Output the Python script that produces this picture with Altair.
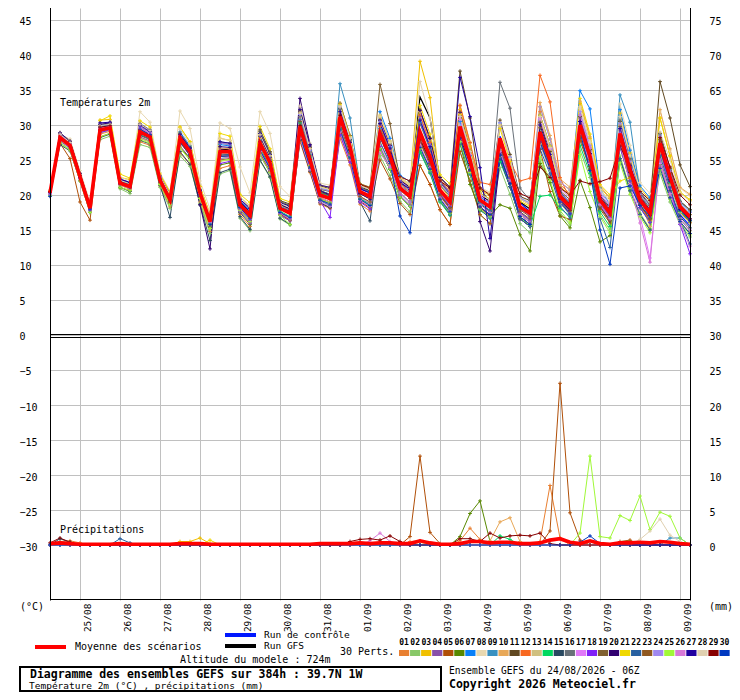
import json
import altair as alt
import pandas as pd

FONT = "DejaVu Sans Mono"

MEMBERS = [f"{i:02d}" for i in range(1, 31)]
COLORS = ["#e87f30", "#88c868", "#f0c000", "#8850a8", "#b04f08", "#588800",
          "#0880f8", "#e8d8b0", "#3890c0", "#e8a858", "#604820", "#f86820",
          "#d0c080", "#00d860", "#284860", "#687078", "#e078f8", "#8020f8",
          "#806030", "#300070", "#f0d800", "#2860a0", "#905820", "#a088f0",
          "#a0f838", "#d878d8", "#2000a0", "#e0d0b0", "#880000", "#0038c0"]

DATE_LABELS = ["25/08", "26/08", "27/08", "28/08", "29/08", "30/08", "31/08", "01/09",
               "02/09", "03/09", "04/09", "05/09", "06/09", "07/09", "08/09", "09/09"]
DATE_STEPS = [3, 7, 11, 15, 19, 23, 27, 31, 35, 39, 43, 47, 51, 55, 59, 63]
Y_TICKS = [-30, -25, -20, -15, -10, -5, 0, 5, 10, 15, 20, 25, 30, 35, 40, 45]

# 2 m temperature (deg C), 6-hourly steps from 24/08 06Z to 09/09 06Z
MEAN_T = [20.3,28.2,27.1,22.6,18.1, 29.3,29.6,21.7,21.2, 29.0,28.3,22.1,19.3, 28.1,26.2,20.3,16.2,
          26.2,26.2,18.6,17.1, 27.4,24.6,18.1,17.4, 29.8,25.0,20.0,19.5, 31.2,26.9,20.5,19.8,
          28.8,25.5,21.0,19.8, 29.0,25.5,20.7,19.0, 29.8,25.0,19.3,18.3, 28.1,23.6,18.3,17.4,
          29.0,25.0,19.8,18.3, 30.0,25.5,19.3,17.4, 28.8,23.6,19.3,17.4, 27.4,22.6,18.3,16.9]
CTRL_T = [20.4,28.6,27.4,22.9,18.4, 29.9,30.1,22.0,21.5, 29.4,28.9,22.4,19.8, 28.6,26.7,20.8,16.6,
          26.6,26.5,18.9,17.4, 27.9,24.9,18.4,17.9, 30.4,25.5,20.4,19.9, 31.6,27.3,20.9,20.3,
          29.4,25.9,21.1,20.0, 29.1,25.3,20.2,18.6, 29.6,24.6,19.1,18.1, 28.4,23.9,18.9,17.6,
          28.2,24.1,19.2,17.9, 29.2,24.3,18.6,16.2, 28.4,23.1,18.6,16.4, 26.9,22.1,17.2,15.6]
GFS_T = [20.6,28.1,27.2,22.5,18.0, 29.6,30.1,22.1,21.6, 29.6,29.0,22.6,20.1, 28.4,26.4,20.9,16.4,
         26.4,26.6,19.1,17.6, 28.1,25.1,18.6,18.0, 30.6,25.6,20.6,20.1, 31.4,27.6,21.1,20.6,
         29.6,26.6,21.6,21.1, 34.0,31.0,22.0,20.2, 31.1,26.1,20.1,19.0, 28.0,24.0,19.0,18.0,
         29.1,25.1,20.0,18.6, 30.1,25.6,19.6,18.1, 29.1,24.1,19.6,17.6, 28.1,23.1,18.6,17.1]

T01 = [20.6,27.8,26.8,22.4,17.9, 28.7,29.1,21.4,20.8, 27.6,27.1,21.3,18.3, 26.0,24.4,19.0,14.8, 23.8,24.2,17.2,15.5, 26.0,23.4,17.3,16.4, 27.6,23.2,18.7,18.1, 28.1,24.3,18.7,17.7, 26.6,23.7,19.7,18.4, 24.2,21.5,17.9,15.8, 27.9,23.4,18.2,17.0, 25.2,21.2,16.6,15.5, 31.9,24.0,21.5,20.2, 28.8,24.5,18.6,16.6, 27.4,22.4,18.5,16.4, 23.8,19.6,16.2,14.5]
T02 = [20.0,27.5,26.5,22.1,17.6, 27.9,28.4,20.9,20.2, 27.2,26.8,21.1,18.1, 25.6,24.1,18.8,14.5, 23.0,23.5,16.7,14.9, 24.9,22.5,16.6,15.7, 28.7,24.1,19.4,18.8, 29.2,25.2,19.3,18.4, 25.6,22.8,19.1,17.6, 26.2,23.2,19.1,17.2, 26.2,22.0,17.2,15.9, 23.9,20.1,15.9,14.6, 25.0,21.7,17.5,15.7, 26.4,22.5,17.2,15.0, 25.6,20.9,17.4,15.2, 23.1,19.0,15.8,14.0]
T03 = [20.5,28.7,27.5,22.9,18.4, 30.7,30.8,22.5,22.2, 30.1,29.2,22.7,20.0, 29.7,27.6,21.2,17.3, 28.1,27.8,19.7,18.4, 29.1,26.0,19.1,18.5, 32.2,27.0,21.4,21.1, 33.1,28.5,21.6,21.1, 31.4,27.7,22.5,21.6, 39.1,33.9,21.4,19.5, 32.2,27.0,20.7,19.9, 30.0,25.2,19.4,18.7, 32.6,28.0,21.9,20.7, 33.1,28.1,21.1,19.5, 31.7,26.0,21.0,19.3, 31.0,25.6,20.4,19.3]
T04 = [20.1,27.7,26.7,22.3,17.8, 28.9,29.3,21.5,21.0, 28.3,27.7,21.7,18.8, 27.0,25.3,19.7,15.5, 25.5,25.6,18.2,16.6, 26.2,23.6,17.4,16.6, 30.3,25.4,20.3,19.8, 30.7,26.5,20.2,19.5, 30.0,26.5,21.7,20.6, 31.2,27.3,22.0,20.4, 31.2,26.2,20.1,19.3, 27.6,23.2,18.0,17.1, 27.8,24.0,19.1,17.5, 31.0,26.3,19.9,18.0, 29.3,24.0,19.6,17.7, 26.4,21.8,17.7,16.3]
T05 = [20.1,27.4,25.2,19.0,16.4, 28.3,28.8,21.1,20.6, 28.5,27.9,21.8,18.9, 28.5,26.5,20.5,16.4, 25.7,25.8,18.3,16.8, 26.4,23.8,17.5,16.8, 27.9,23.4,18.9,18.2, 28.8,24.9,19.1,18.2, 25.0,22.3,18.8,17.2, 24.2,21.5,17.9,15.8, 26.2,22.0,17.2,15.9, 25.7,21.6,16.9,15.8, 26.5,20.5,17.0,16.5, 27.8,23.7,18.0,16.0, 26.9,22.0,18.2,16.1, 26.2,21.6,17.6,16.1]
T06 = [20.4,28.3,27.2,22.7,18.2, 29.1,29.4,21.6,21.0, 28.1,27.6,21.6,18.7, 26.8,25.2,19.6,15.4, 24.3,24.6,17.5,15.8, 26.4,23.8,17.5,16.8, 29.1,24.4,19.6,19.0, 29.8,25.7,19.7,18.8, 26.6,23.7,19.7,18.4, 26.6,23.5,19.3,17.4, 27.4,21.5,17.8,17.0, 18.6,18.1,14.3,12.0, 24.5,21.8,17.0,15.3, 22.1,18.2,13.3,14.2, 25.2,20.6,17.2,15.0, 24.4,20.1,16.6,14.9]
T07 = [20.5,28.6,27.4,22.8,18.3, 29.8,30.0,22.0,21.5, 29.5,28.8,22.4,19.7, 29.0,27.0,20.8,16.8, 27.2,27.0,19.2,17.7, 28.8,25.8,18.9,18.4, 31.5,26.4,21.0,20.6, 32.4,27.9,21.2,20.6, 31.9,28.1,22.8,21.9, 30.4,26.7,21.5,20.0, 30.5,25.6,19.7,18.8, 30.3,25.4,19.6,18.8, 31.4,27.0,21.2,19.9, 34.9,32.3,21.0,18.6, 32.2,26.4,21.3,19.6, 28.8,23.8,19.1,17.9]
T08 = [20.8,28.6,28.0,23.5,19.0, 30.0,30.5,22.6,22.0, 31.9,30.4,23.2,20.5, 32.0,29.5,22.0,18.0, 30.3,29.5,24.0,20.3, 31.9,28.8,21.2,19.8, 32.7,27.4,21.7,21.4, 33.1,28.5,21.6,21.1, 31.4,27.7,22.5,21.6, 31.9,27.9,22.4,20.9, 32.9,27.6,21.1,20.4, 30.5,25.6,19.7,19.0, 31.4,27.0,21.2,19.9, 32.6,27.7,20.8,19.2, 33.0,27.1,21.8,20.2, 32.0,26.4,21.0,19.9]
T09 = [20.2,28.2,27.1,22.6,18.1, 29.4,29.7,21.8,21.3, 29.4,28.6,22.3,19.5, 27.7,25.9,20.1,16.0, 25.5,25.6,18.2,16.6, 27.9,25.0,18.4,17.7, 30.8,25.8,20.6,20.1, 35.9,31.0,21.3,20.2, 29.5,26.1,21.4,20.3, 28.0,24.7,20.1,18.4, 29.1,24.4,18.9,17.8, 26.7,22.4,17.5,16.4, 27.3,23.6,18.8,17.2, 29.3,24.9,18.9,16.9, 34.3,30.4,20.3,18.0, 28.6,23.6,19.0,17.7]
T10 = [20.3,28.1,27.0,22.5,18.0, 29.3,29.6,21.7,21.2, 29.5,28.8,22.4,19.7, 28.6,26.7,20.6,16.6, 26.7,26.6,18.9,17.4, 28.1,25.2,18.5,17.9, 31.2,26.2,20.8,20.5, 32.6,28.1,21.3,20.8, 31.0,27.3,22.3,21.2, 31.9,27.9,22.4,20.9, 32.7,27.4,20.9,20.2, 26.5,22.8,19.4,18.6, 33.2,28.5,22.3,21.1, 33.4,28.3,21.3,19.6, 30.0,24.6,19.0,15.5, 32.2,26.6,21.1,20.1]
T11 = [20.0,28.0,27.0,22.5,18.0, 29.7,29.9,21.9,21.4, 29.2,28.4,22.2,19.4, 28.8,26.8,20.7,16.7, 27.4,27.2,19.3,17.9, 29.3,26.2,19.2,18.7, 32.0,26.8,21.3,20.9, 32.4,27.9,21.2,20.6, 30.7,27.1,22.1,21.1, 32.1,28.1,22.5,21.1, 37.7,31.0,21.0,19.0, 30.7,25.8,19.8,19.2, 30.4,26.2,20.6,19.3, 31.2,26.5,20.0,18.2, 30.5,25.0,20.3,18.5, 36.2,31.0,24.3,21.2]
T12 = [20.6,28.4,27.3,22.8,18.3, 29.5,29.8,21.8,21.4, 28.8,28.2,22.0,19.2, 28.3,26.4,20.4,16.3, 25.5,25.6,18.2,16.6, 27.6,24.8,18.2,17.6, 29.1,24.4,19.6,19.0, 30.7,26.5,20.2,19.5, 29.8,26.3,21.6,20.4, 31.4,27.5,22.1,20.6, 32.8,27.5,21.8,21.5, 27.3,24.8,22.0,22.4, 37.1,33.3,22.5,19.4, 30.5,25.9,19.6,17.7, 27.4,22.4,18.5,16.4, 26.9,22.2,18.0,16.6]
T13 = [20.2,28.0,26.9,22.4,17.9, 28.8,29.2,21.4,20.9, 28.1,27.6,21.6,18.7, 26.7,25.0,19.5,15.2, 24.8,25.0,17.8,16.1, 25.7,23.2,17.1,16.3, 28.6,24.0,19.3,18.7, 30.0,25.9,19.8,19.0, 27.4,24.3,20.2,18.8, 28.3,24.9,20.3,18.5, 27.6,23.2,18.0,16.9, 26.4,22.2,17.3,16.3, 27.3,23.6,18.8,17.2, 29.0,24.7,18.7,16.8, 28.1,23.0,18.9,16.9, 26.0,21.4,17.5,15.9]
T14 = [20.4,28.3,27.2,22.7,18.2, 29.2,29.5,21.6,21.1, 28.6,28.0,21.9,19.1, 27.7,25.9,20.1,16.0, 25.2,25.4,18.0,16.5, 26.7,24.0,17.7,16.9, 30.3,25.4,20.3,19.8, 29.5,25.5,19.5,18.7, 26.6,23.7,19.7,18.4, 26.1,23.1,19.0,17.1, 27.4,23.0,17.9,16.7, 24.8,21.2,16.8,15.6, 19.8,20.0,18.1,17.0, 27.1,23.1,17.6,15.5, 26.9,22.0,18.2,16.1, 26.4,21.8,17.7,16.3]
T15 = [19.9,27.2,26.3,22.0,17.5, 28.2,28.7,21.1,20.5, 27.8,27.3,21.4,16.8, 26.2,24.4,18.6,13.5, 23.2,23.7,16.9,15.1, 25.0,22.6,16.7,15.8, 27.9,23.4,18.9,18.2, 29.6,25.6,19.0,16.3, 26.6,23.7,19.7,18.4, 27.8,24.5,20.0,18.2, 28.8,24.2,18.7,17.7, 26.2,22.0,17.2,16.1, 27.6,23.8,19.0,17.3, 28.3,24.1,18.3,16.3, 27.6,22.6,18.6,16.6, 25.0,20.6,16.9,15.3]
T16 = [20.5,28.8,27.6,23.0,18.5, 30.0,30.2,22.1,21.7, 30.2,29.3,22.8,20.1, 28.8,26.8,20.7,16.7, 27.6,27.4,19.4,18.1, 29.1,26.0,19.1,18.5, 31.2,26.2,20.8,20.5, 32.2,27.7,21.1,20.4, 30.2,26.7,21.8,20.8, 30.2,26.5,21.4,19.8, 31.5,26.4,20.3,19.4, 36.1,32.4,21.0,19.2, 31.4,27.0,21.2,19.9, 31.4,26.7,20.1,18.4, 30.7,25.2,20.4,18.7, 28.8,23.8,19.1,17.9]
T17 = [20.1,28.2,27.1,22.6,18.1, 29.5,29.8,21.8,21.4, 29.7,28.9,22.5,19.8, 28.3,26.4,20.4,16.3, 25.0,25.2,17.9,16.3, 26.4,23.8,17.5,16.8, 29.1,24.4,19.6,19.0, 29.8,25.7,19.7,18.8, 28.3,25.1,20.7,19.5, 27.6,24.3,19.9,18.0, 30.8,25.8,19.9,18.9, 27.4,23.0,17.9,16.9, 30.9,26.6,20.9,19.6, 31.4,26.7,20.1,18.4, 28.8,22.6,17.0,11.0, 24.5,20.2,16.6,15.0]
T18 = [20.0,28.0,26.9,22.4,17.9, 28.9,29.3,21.5,21.0, 29.2,28.5,22.2,19.4, 27.9,26.1,20.2,16.1, 24.5,24.8,17.6,16.0, 25.7,23.2,17.1,16.3, 29.2,24.6,19.2,16.8, 28.6,24.7,19.0,18.0, 26.9,23.9,19.9,18.5, 28.0,24.7,20.1,18.4, 27.9,23.4,18.2,17.0, 26.7,22.4,17.5,16.4, 28.3,24.4,19.4,17.8, 29.0,24.7,18.7,16.8, 26.9,22.0,18.2,16.1, 26.8,21.0,15.8,11.6]
T19 = [20.4,28.3,27.2,22.7,18.2, 29.4,29.7,21.8,21.3, 29.4,28.6,22.3,19.5, 28.6,26.6,20.6,16.6, 26.0,26.0,18.5,16.9, 27.6,24.8,18.2,17.6, 30.5,25.6,20.4,20.0, 33.1,28.5,21.6,21.1, 35.8,30.2,22.0,20.8, 27.8,24.5,20.0,18.2, 28.0,23.5,18.2,17.1, 26.9,22.6,17.6,16.6, 29.6,25.5,20.2,18.7, 29.5,25.1,19.0,17.1, 29.8,24.4,19.9,18.0, 28.8,23.8,19.1,17.9]
T20 = [20.3,28.8,27.6,23.0,18.5, 30.1,30.3,22.2,21.8, 30.1,29.2,22.7,20.0, 27.6,25.6,18.6,12.3, 26.9,26.8,19.0,17.6, 28.8,25.8,18.9,18.4, 33.8,27.2,20.6,20.0, 30.6,26.4,20.2,19.4, 30.7,27.1,22.1,21.1, 32.1,28.1,22.5,21.1, 31.8,26.3,16.2,12.0, 25.2,21.2,16.6,15.5, 28.3,24.4,19.4,17.8, 30.5,25.9,19.6,17.7, 28.3,23.2,19.0,17.1, 26.9,22.2,18.0,16.6]
T21 = [20.6,28.9,27.7,23.1,18.6, 30.6,31.3,23.0,22.4, 30.6,29.7,23.0,20.4, 29.7,27.6,21.2,17.3, 28.8,28.4,20.1,18.9, 29.8,26.6,19.5,19.0, 31.7,26.6,21.1,20.8, 32.9,28.3,21.5,20.9, 31.2,27.5,22.4,21.4, 32.8,28.7,22.9,21.6, 31.5,26.4,20.3,19.4, 29.5,24.8,19.1,18.4, 31.4,27.0,21.2,19.9, 33.8,28.7,21.5,20.0, 22.0,22.5,19.6,18.1, 31.0,25.6,20.4,19.3]
T22 = [20.0,28.2,27.1,22.6,18.1, 29.3,29.6,21.7,21.2, 28.6,28.0,21.9,19.1, 28.6,26.7,20.6,16.6, 25.7,25.8,18.3,16.8, 26.2,23.6,17.4,16.6, 28.4,23.8,19.2,18.5, 29.3,25.3,19.4,18.5, 27.6,24.5,20.3,19.0, 26.4,23.3,19.2,17.2, 27.4,23.0,17.9,16.7, 25.2,21.2,16.6,15.5, 26.6,23.0,18.4,16.7, 29.2,24.2,16.6,12.5, 25.2,20.6,17.2,15.0, 25.6,21.1,16.5,13.0]
T23 = [20.5,28.4,27.3,22.8,18.3, 29.2,29.5,21.6,21.1, 29.2,28.4,22.2,19.4, 27.5,25.7,20.0,15.8, 25.0,25.2,17.9,16.3, 26.0,23.4,17.3,16.4, 28.8,24.2,19.4,18.9, 30.0,25.9,19.8,19.0, 28.3,25.1,20.7,19.5, 27.6,24.3,19.9,18.0, 28.1,23.6,18.3,17.2, 27.4,23.0,17.9,16.9, 28.0,24.2,19.2,17.7, 28.3,24.1,18.3,16.3, 27.6,22.6,18.6,16.6, 27.9,23.0,18.6,17.2]
T24 = [20.2,28.6,27.4,22.8,18.3, 29.7,29.9,21.9,21.4, 29.7,28.9,22.5,19.8, 28.5,26.5,20.5,16.4, 27.4,27.2,19.3,17.9, 27.6,24.8,18.2,17.6, 31.5,26.4,21.0,20.6, 32.6,28.1,21.3,20.8, 30.5,26.9,22.0,20.9, 30.9,27.1,21.8,20.3, 31.2,26.2,20.1,19.3, 30.3,25.4,19.6,18.8, 32.6,28.0,21.9,20.7, 31.9,27.1,20.4,18.7, 30.2,24.8,20.1,18.4, 28.4,23.4,18.9,17.5]
T25 = [19.9,27.4,26.4,22.0,17.5, 28.3,28.8,21.1,20.6, 27.9,27.4,21.5,18.6, 26.7,25.0,19.5,15.2, 24.9,25.1,17.8,16.2, 25.7,23.2,17.1,15.8, 28.8,24.2,19.4,18.9, 29.3,25.3,19.4,18.5, 26.6,23.7,19.7,18.4, 26.6,23.5,19.3,17.4, 27.6,23.2,18.0,16.9, 25.6,21.5,16.8,15.7, 25.5,22.1,17.8,16.0, 25.8,20.5,16.9,14.6, 24.6,20.1,16.9,14.6, 23.6,19.4,16.1,14.3]
T26 = [20.1,28.3,27.2,22.7,18.2, 29.4,29.7,21.8,21.3, 29.5,28.8,22.4,19.7, 27.9,26.1,20.2,16.1, 25.2,25.4,18.0,16.5, 26.2,23.6,17.4,16.6, 28.1,23.6,19.0,18.4, 29.0,25.1,19.2,18.4, 26.0,24.0,20.3,19.0, 27.1,23.9,19.6,17.7, 28.6,24.0,18.6,17.5, 26.2,22.0,17.2,16.1, 27.6,23.8,19.0,17.3, 28.8,24.5,18.6,16.6, 27.5,21.5,16.0,10.4, 25.0,20.0,16.0,12.7]
T27 = [20.4,28.9,27.7,23.1,18.6, 30.3,30.4,22.3,21.8, 29.9,29.1,22.6,19.9, 28.6,26.7,20.6,16.6, 27.6,27.4,19.4,18.1, 28.4,25.4,18.7,18.0, 32.2,27.0,21.4,21.1, 31.9,27.5,20.9,20.3, 30.2,26.7,21.8,20.8, 30.7,26.9,21.7,20.1, 36.8,31.2,23.9,13.8, 25.7,21.6,16.9,15.8, 30.0,25.8,20.4,18.9, 30.5,25.9,19.6,17.7, 29.5,24.2,19.7,17.9, 26.7,22.0,17.9,16.4]
T28 = [20.6,28.7,27.5,22.9,18.4, 29.9,30.1,22.1,21.6, 30.1,29.2,22.7,20.0, 29.4,27.3,21.0,17.0, 28.1,27.8,19.7,18.4, 28.6,25.6,18.8,18.2, 31.7,26.6,21.1,20.8, 32.6,28.1,21.3,20.8, 31.2,27.5,22.4,21.4, 36.2,31.0,21.6,20.0, 31.2,26.2,20.1,19.3, 30.0,25.2,19.4,18.7, 31.2,26.8,21.1,19.7, 32.4,27.5,20.7,19.0, 31.2,25.6,20.7,19.0, 29.0,25.0,20.3,19.1]
T29 = [20.5,28.0,27.0,22.8,18.3, 29.7,29.9,21.9,21.4, 29.0,28.3,22.1,19.3, 28.3,26.4,20.4,16.4, 26.1,26.1,18.5,17.0, 27.6,24.8,18.2,17.6, 29.9,25.1,20.1,19.6, 31.4,26.5,21.5,21.0, 28.5,26.0,22.6,22.0, 28.0,25.0,22.0,21.0, 28.2,24.5,21.0,20.0, 27.0,23.6,20.2,19.6, 24.0,22.5,21.0,20.0, 22.0,21.6,21.9,22.4, 27.0,24.0,20.5,19.2, 28.2,24.0,20.0,18.6]
T30 = [19.8,28.1,27.0,22.5,18.0, 29.3,29.6,21.7,21.2, 29.4,28.6,22.3,19.5, 27.6,25.8,20.0,15.8, 25.5,25.6,18.2,16.6, 26.4,23.8,17.5,16.8, 28.6,24.0,19.3,18.7, 29.3,25.3,19.4,18.5, 28.4,24.8,17.0,14.6, 26.8,23.7,19.4,17.6, 28.1,23.6,18.3,17.2, 25.7,21.6,16.9,15.8, 27.6,23.8,19.0,17.3, 29.0,23.5,15.0,10.1, 21.0,21.3,18.5,17.0, 23.8,19.6,16.2,14.5]

# 6-hourly precipitation (mm): step -> amount, other steps dry
MEAN_P = [0.2,0.3,0.2,0.1,0.1, 0.1,0.1,0.2,0.1, 0.1,0.1,0.1,0.1, 0.2,0.2,0.2,0.1, 0.1,0.1,0.1,0.1,
          0.1,0.1,0.1,0.1, 0.1,0.1,0.2,0.2, 0.2,0.2,0.3,0.2, 0.3,0.3,0.2,0.2, 0.6,0.3,0.1,0.1,
          0.2,0.5,0.5,0.3, 0.4,0.4,0.2,0.2, 0.3,0.7,0.9,0.4, 0.2,0.6,0.2,0.1, 0.3,0.3,0.4,0.3, 0.5,0.4,0.2,0.1]
CTRL_P = {}
GFS_P = {}
P01 = {1: 0.5, 2: 0.6, 3: 0.3, 41: 0.6, 42: 2.4, 43: 0.8, 49: 0.5, 50: 8.5, 51: 1.0}
P02 = {}
P03 = {13: 0.5, 14: 0.5, 15: 1.0, 16: 0.2}
P04 = {}
P05 = {36: 1.2, 37: 12.7, 38: 1.8, 39: 0.2, 50: 2.0, 51: 23.1, 52: 4.6, 53: 0.7, 57: 0.5, 58: 0.7}
P06 = {41: 1.2, 42: 4.5, 43: 6.3, 44: 0.5}
P07 = {}
P08 = {}
P09 = {62: 1.0, 63: 1.0}
P10 = {44: 0.6, 45: 3.3, 46: 3.9, 47: 0.5}
P11 = {}
P12 = {36: 0.5, 37: 0.6}
P13 = {37: 0.4}
P14 = {45: 1.3, 46: 0.8}
P15 = {1: 0.9, 2: 0.4}
P16 = {}
P17 = {}
P18 = {}
P19 = {}
P20 = {}
P21 = {16: 0.7}
P22 = {7: 0.9, 8: 0.3}
P23 = {}
P24 = {}
P25 = {53: 1.7, 54: 12.7, 55: 1.2, 56: 1.0, 57: 4.2, 58: 3.5, 59: 7.0, 60: 2.2, 61: 4.7, 62: 4.1, 63: 1.0}
P26 = {32: 0.6, 33: 1.7, 34: 0.5}
P27 = {}
P28 = {59: 0.8, 60: 2.0, 61: 3.7, 62: 1.4, 63: 0.5}
P29 = {0: 0.3, 1: 1.0, 2: 0.4, 30: 0.5, 31: 0.8, 32: 0.9, 33: 0.7, 34: 1.3, 35: 0.5, 41: 0.9, 42: 0.9,
       43: 0.5, 44: 1.7, 45: 1.0, 46: 1.3, 47: 1.4, 48: 1.3, 49: 1.7, 50: 0.2}
P30 = {53: 0.4, 54: 1.3, 55: 0.2}

PERTS_T = [T01, T02, T03, T04, T05, T06, T07, T08, T09, T10, T11, T12, T13, T14, T15,
           T16, T17, T18, T19, T20, T21, T22, T23, T24, T25, T26, T27, T28, T29, T30]
PERTS_P = [P01, P02, P03, P04, P05, P06, P07, P08, P09, P10, P11, P12, P13, P14, P15,
           P16, P17, P18, P19, P20, P21, P22, P23, P24, P25, P26, P27, P28, P29, P30]

N = 65
for i, t in enumerate(PERTS_T + [MEAN_T, CTRL_T, GFS_T, MEAN_P]):
    assert len(t) == N, (i, len(t))

rows = []
for m, t, p in zip(MEMBERS, PERTS_T, PERTS_P):
    for s in range(N):
        rows.append({"member": m, "step": s, "t": t[s], "p": p.get(s, 0.0)})
perts = pd.DataFrame(rows)
det = pd.DataFrame({
    "step": list(range(N)),
    "mean_t": MEAN_T, "ctrl_t": CTRL_T, "gfs_t": GFS_T,
    "mean_p": MEAN_P,
    "ctrl_p": [CTRL_P.get(s, 0.0) for s in range(N)],
    "gfs_p": [GFS_P.get(s, 0.0) for s in range(N)],
})

XS = alt.Scale(domain=[0, 64], nice=False, zero=False)
YS = alt.Scale(domain=[-37.857, 46.714], nice=False, zero=False)

x_axis = alt.Axis(values=DATE_STEPS,
                  labelExpr=json.dumps(DATE_LABELS) + "[(datum.value - 3) / 4]",
                  labelAngle=270, labelAlign="right", labelBaseline="top",
                  labelOffset=2, labelPadding=3, ticks=False, tickSize=0, domain=False,
                  grid=True, gridColor="#c0c0c0", gridWidth=1, title=None,
                  labelFont=FONT, labelFontSize=9.5, labelColor="black",
                  labelOverlap=False, labelFlush=False)
y_left = alt.Axis(values=Y_TICKS, orient="left", labelAlign="left", labelPadding=31,
                  labelOffset=2, ticks=False, tickSize=0, domain=False, grid=True,
                  gridColor="#c0c0c0", gridWidth=1, title=None, labelFont=FONT,
                  labelFontSize=10, labelColor="black", labelOverlap=False, labelFlush=False)
y_right = alt.Axis(values=Y_TICKS, orient="right", labelExpr="datum.value + 30",
                   labelAlign="left", labelPadding=19, labelOffset=2, ticks=False, tickSize=0,
                   domain=False, grid=False, title=None, labelFont=FONT, labelFontSize=10,
                   labelColor="black", labelOverlap=False, labelFlush=False)

X = alt.X("step:Q", scale=XS, axis=x_axis)
color = alt.Color("member:N", scale=alt.Scale(domain=MEMBERS, range=COLORS), legend=None)
CROSS = "M-1,0L1,0M0,-1L0,1"

layers = []
# control and GFS runs first, so that the perturbations and mean sit over them
for col, clr, ax in [("ctrl", "#0018ff", y_right), ("gfs", "#000000", None)]:
    layers.append(alt.Chart(det).mark_line(color=clr, strokeWidth=1.2).encode(
        x=X, y=alt.Y(f"{col}_t:Q", scale=YS, axis=ax)))
    layers.append(alt.Chart(det).transform_calculate(pp=f"datum.{col}_p - 30").mark_line(
        color=clr, strokeWidth=2).encode(x=X, y=alt.Y("pp:Q", scale=YS, axis=None)))
# perturbations, temperature
layers.append(alt.Chart(perts).mark_line(strokeWidth=1).encode(
    x=X, y=alt.Y("t:Q", scale=YS, axis=y_left), color=color, detail="member:N"))
layers.append(alt.Chart(perts).mark_point(shape=CROSS, size=14, filled=False, strokeWidth=1, opacity=1).encode(
    x=X, y=alt.Y("t:Q", scale=YS, axis=None), color=color))
# perturbations, precipitation (shared axis: 0 mm sits at -30)
layers.append(alt.Chart(perts).transform_calculate(pp="datum.p - 30").mark_line(strokeWidth=1).encode(
    x=X, y=alt.Y("pp:Q", scale=YS, axis=None), color=color, detail="member:N"))
layers.append(alt.Chart(perts).transform_calculate(pp="datum.p - 30").mark_point(
    shape=CROSS, size=14, filled=False, strokeWidth=1, opacity=1).encode(
    x=X, y=alt.Y("pp:Q", scale=YS, axis=None), color=color))
# ensemble mean on top
layers.append(alt.Chart(det).mark_line(color="#ff0000", strokeWidth=3.6).encode(
    x=X, y=alt.Y("mean_t:Q", scale=YS, axis=None)))
layers.append(alt.Chart(det).transform_calculate(pp="datum.mean_p - 30").mark_line(
    color="#ff0000", strokeWidth=3.6).encode(x=X, y=alt.Y("pp:Q", scale=YS, axis=None)))

one = pd.DataFrame({"k": [0]})


def txt(s, x, y, size=10, bold=False, align="left"):
    return alt.Chart(one).mark_text(text=s, align=align, baseline="middle", font=FONT,
                                    fontSize=size, fontWeight="bold" if bold else "normal",
                                    color="black").encode(x=alt.value(x), y=alt.value(y))


def rule(x1, x2, y1, y2, clr="black", w=1):
    return alt.Chart(one).mark_rule(color=clr, strokeWidth=w).encode(
        x=alt.value(x1), x2=alt.value(x2), y=alt.value(y1), y2=alt.value(y2))


# frame
layers += [rule(0.5, 0.5, 0, 592.5), rule(640.5, 640.5, 0, 592.5), rule(0, 640.5, 591.5, 591.5),
           rule(0, 640.5, 326.5, 326.5), rule(0, 640.5, 329.5, 329.5)]
# in-plot labels
layers += [txt("Températures 2m", 10, 95), txt("Précipitations", 10, 522)]
layers += [txt("(°C)", -30, 599), txt("(mm)", 659, 599)]
# legend
layers += [rule(-15, 16, 639, 639, "#ff0000", 4), txt("Moyenne des scénarios", 25, 639),
           rule(175, 206, 627, 627, "#0018ff", 4), txt("Run de contrôle", 214, 627, size=9.5),
           rule(175, 206, 638, 638, "#000000", 4), txt("Run GFS", 214, 638, size=9.5),
           txt("Altitude du modele : 724m", 130, 652), txt("30 Perts.", 290, 644)]
for k, (m, c) in enumerate(zip(MEMBERS, COLORS)):
    x0 = 349 + k * 11.05
    layers.append(alt.Chart(one).mark_rect(color=c).encode(
        x=alt.value(x0), x2=alt.value(x0 + 10.2), y=alt.value(642), y2=alt.value(648)))
    layers.append(txt(m, x0 + 5.1, 635, size=8, bold=True, align="center"))
# title box
layers.append(alt.Chart(one).mark_rect(fillOpacity=0, stroke="black", strokeWidth=2).encode(
    x=alt.value(-30), x2=alt.value(391), y=alt.value(659), y2=alt.value(683)))
layers += [txt("Diagramme des ensembles GEFS sur 384h : 39.7N 1W", -20, 667, size=11.5, bold=True),
           txt("Température 2m (°C) , précipitations (mm)", -21, 677.5, size=9.5),
           txt("Ensemble GEFS du 24/08/2026 - 06Z", 399, 663, size=9.6),
           txt("Copyright 2026 Meteociel.fr", 399, 677, size=11.5, bold=True)]

chart = alt.layer(*layers).resolve_axis(y="independent").properties(
    width=640, height=592, background="white",
    padding={"left": 42, "top": 0, "right": 42, "bottom": 92},
    autosize=alt.AutoSizeParams(type="none"),
).configure_view(stroke=None)

chart.save("out.html", embed_options={"renderer": "svg", "actions": False})
